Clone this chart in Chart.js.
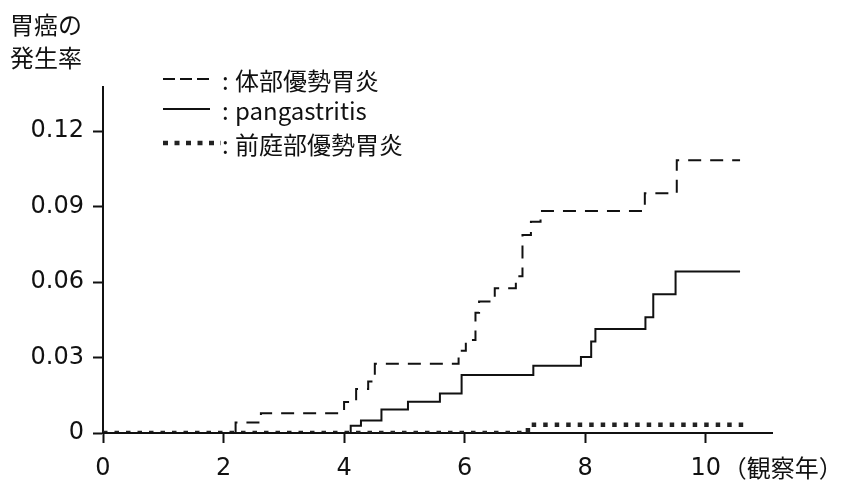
<!DOCTYPE html>
<html>
<head>
<meta charset="utf-8">
<script src="https://cdn.jsdelivr.net/npm/chart.js@4.4.1/dist/chart.umd.min.js"></script>
<style>
  html, body { margin: 0; padding: 0; background: #fff; }
</style>
</head>
<body>
<canvas id="chart-km" width="842" height="481"></canvas>
<script>
// step points: (観察年, cumulative rate right after the event)
const bodyTimes = [0, 2.2, 2.62, 4.0, 4.2, 4.4, 4.51, 5.9, 6.02, 6.18, 6.24, 6.5, 6.85, 6.96, 7.1, 7.26, 8.99, 9.52, 10.57];
const bodyRates = [0, 0.0042, 0.0079, 0.0123, 0.0175, 0.0205, 0.0275, 0.0327, 0.037, 0.0478, 0.0523, 0.0576, 0.0623, 0.0787, 0.084, 0.0883, 0.0953, 0.1085, 0.1085];

const panTimes = [0, 4.11, 4.28, 4.62, 5.06, 5.59, 5.95, 7.14, 7.93, 8.1, 8.17, 9.0, 9.13, 9.5, 10.57];
const panRates = [0, 0.0029, 0.005, 0.0093, 0.0124, 0.0157, 0.0231, 0.0267, 0.0302, 0.0364, 0.0414, 0.046, 0.0552, 0.0642, 0.0642];

const antrumTimes = [0, 7.05, 10.68];
const antrumRates = [0, 0.0033, 0.0033];

const seriesLabels = ['体部優勢胃炎', 'pangastritis', '前庭部優勢胃炎'];
const xTicks = [0, 2, 4, 6, 8, 10];
const yTicks = [0, 0.03, 0.06, 0.09, 0.12];

const ink = '#111';
const numFont = { family: "'DejaVu Sans', sans-serif", size: 24 };
const jpFont = "24px 'Noto Sans CJK JP', sans-serif";

const toPoints = (xs, ys) => xs.map((x, i) => ({ x, y: ys[i] }));

// legend + axis captions drawn on top
const captions = {
  id: 'captions',
  afterDraw(chart) {
    const ctx = chart.ctx;
    ctx.save();
    ctx.fillStyle = ink;
    ctx.font = jpFont;
    ctx.textBaseline = 'middle';
    ctx.textAlign = 'left';
    ctx.fillText('胃癌の', 10, 25);
    ctx.fillText('発生率', 10, 58);

    const xs = chart.scales.x;
    ctx.fillText('（観察年）', xs.getPixelForValue(10) + 17, 468);

    const rows = [80, 110, 144];
    chart.data.datasets.forEach((ds, i) => {
      const y = rows[i];
      ctx.save();
      ctx.strokeStyle = ds.borderColor;
      ctx.lineWidth = ds.borderWidth;
      ctx.setLineDash(ds.legendDash || ds.borderDash || []);
      ctx.beginPath();
      ctx.moveTo(163, y - 1);
      ctx.lineTo(i === 2 ? 221 : 210, y - 1);
      ctx.stroke();
      ctx.restore();
      ctx.fillText(':', 222, y + 1);
      ctx.fillText(ds.label, 235, y + 1);
    });
    ctx.restore();
  }
};

new Chart(document.getElementById('chart-km'), {
  type: 'line',
  data: {
    datasets: [
      {
        label: seriesLabels[0],
        data: toPoints(bodyTimes, bodyRates),
        stepped: true,
        borderColor: ink,
        borderWidth: 2,
        borderDash: [13, 9],
        legendDash: [12, 5],
        pointRadius: 0,
        fill: false
      },
      {
        label: seriesLabels[1],
        data: toPoints(panTimes, panRates),
        stepped: true,
        borderColor: ink,
        borderWidth: 2,
        pointRadius: 0,
        fill: false
      },
      {
        label: seriesLabels[2],
        data: toPoints(antrumTimes, antrumRates),
        stepped: true,
        borderColor: '#222',
        borderWidth: 4.5,
        borderDash: [4.5, 7],
        legendDash: [5, 6.5],
        pointRadius: 0,
        fill: false
      }
    ]
  },
  options: {
    responsive: false,
    animation: false,
    devicePixelRatio: 1,
    layout: { padding: { top: 87, right: 70, left: 0, bottom: 0 } },
    scales: {
      x: {
        type: 'linear',
        min: 0,
        max: 11.1,
        afterBuildTicks: s => { s.ticks = xTicks.map(v => ({ value: v })); },
        afterFit: s => { s.height = 48; },
        grid: { drawOnChartArea: false, drawTicks: true, tickLength: 10, tickWidth: 2, tickColor: ink },
        border: { color: ink, width: 2 },
        ticks: { color: ink, padding: 11, font: numFont, maxRotation: 0, autoSkip: false }
      },
      y: {
        type: 'linear',
        min: 0,
        max: 0.1376,
        afterBuildTicks: s => { s.ticks = yTicks.map(v => ({ value: v })); },
        afterFit: s => { s.width = 103; },
        grid: { drawOnChartArea: false, drawTicks: true, tickLength: 10, tickWidth: 2, tickColor: ink },
        border: { color: ink, width: 2 },
        ticks: {
          color: ink,
          padding: 9,
          font: numFont,
          callback: v => v === 0 ? '0' : v.toFixed(2)
        }
      }
    },
    plugins: {
      legend: { display: false },
      tooltip: { enabled: false }
    }
  },
  plugins: [captions]
});
</script>
</body>
</html>
